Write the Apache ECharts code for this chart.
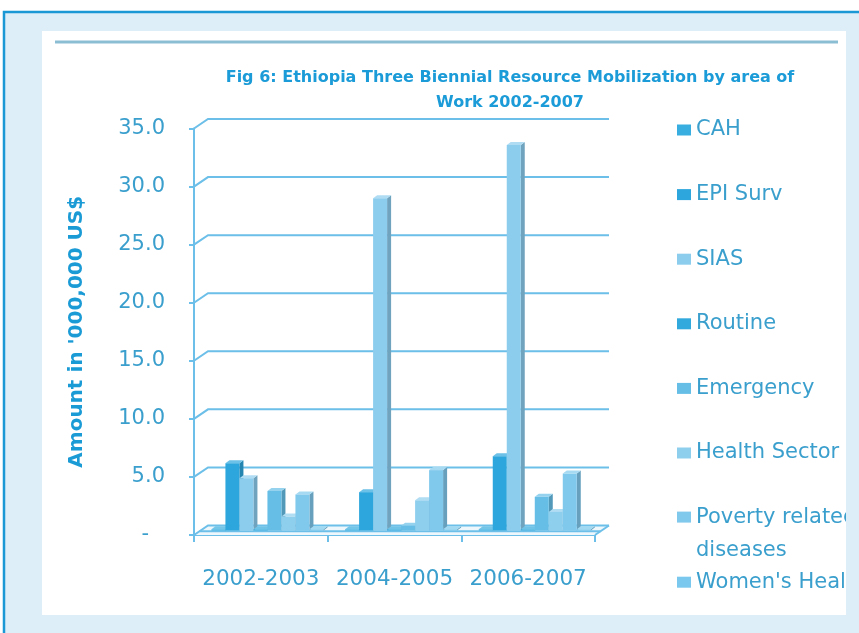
<!DOCTYPE html>
<html>
<head>
<meta charset="utf-8">
<script src="https://cdn.jsdelivr.net/npm/echarts@6/dist/echarts.min.js"></script>
<style>
  html, body { margin: 0; padding: 0; background: #ffffff; }
  #chart { width: 859px; height: 633px; }
</style>
</head>
<body>
<div id="chart"></div>
<script>
// Resource mobilization by area of work, in millions of US$
const categories = ['2002-2003', '2004-2005', '2006-2007'];
const seriesNames = ['CAH', 'EPI Surv', 'SIAS', 'Routine', 'Emergency', 'Health Sector', 'Poverty related diseases', "Women's Health"];

const cah            = [0.1, 0.1, 0.1];
const epiSurv        = [5.8, 3.3, 6.4];
const sias           = [4.5, 28.6, 33.2];
const routine        = [0.1, 0.1, 0.1];
const emergency      = [3.4, 0.4, 2.9];
const healthSector   = [1.2, 2.6, 1.6];
const povertyRelated = [3.1, 5.2, 4.9];
const womensHealth   = [0.1, 0.1, 0.1];

const valueTicks = [0, 5, 10, 15, 20, 25, 30, 35];

const seriesValues = [cah, epiSurv, sias, routine, emergency, healthSector, povertyRelated, womensHealth];

// front-face colour of each column series
const palette = ['#38aee0', '#2ca6dc', '#8ccdee', '#31a9dd', '#66bee7', '#8fcfee', '#80c8ec', '#7ac8ed'];

const FONT = "'DejaVu Sans', sans-serif";
const LINE = '#6cbfe8';
const TEXT = '#3a9fcd';
const DEPTH = [14, -9.5];      // depth of the plot box (walls and floor)
const PLANE = [6.6, -4.5];     // depth at which the columns stand
const BAR_DEPTH = [4, -3];     // thickness of each column
const GROUP_RATIO = 0.838;     // share of a category band used by its columns

function shade(hex, f) {
  const n = parseInt(hex.slice(1), 16);
  let r = (n >> 16) & 255, g = (n >> 8) & 255, b = n & 255;
  const t = f < 0 ? 0 : 255, p = Math.abs(f);
  r = Math.round((t - r) * p + r);
  g = Math.round((t - g) * p + g);
  b = Math.round((t - b) * p + b);
  return 'rgb(' + r + ',' + g + ',' + b + ')';
}

// one 3D column: right side, top, then front face
function columnRenderer(si) {
  return function (params, api) {
    const ci = api.value(0);
    const v = api.value(1);
    const p0 = api.coord([ci, 0]);
    const p1 = api.coord([ci, v]);
    const band = api.size([1, 0])[0];
    const groupW = band * GROUP_RATIO;
    const bw = groupW / seriesNames.length;
    const x = p0[0] - groupW / 2 + si * bw + PLANE[0];
    const yb = p0[1] + PLANE[1];
    const yt = p1[1] + PLANE[1];
    const dx = BAR_DEPTH[0], dy = BAR_DEPTH[1];
    const c = palette[si];
    return {
      type: 'group',
      children: [
        { type: 'polygon', shape: { points: [[x + bw, yt], [x + bw + dx, yt + dy], [x + bw + dx, yb + dy], [x + bw, yb]] },
          style: { fill: shade(c, -0.2) } },
        { type: 'polygon', shape: { points: [[x, yt], [x + dx, yt + dy], [x + bw + dx, yt + dy], [x + bw, yt]] },
          style: { fill: shade(c, 0.3) } },
        { type: 'rect', shape: { x: x, y: yt, width: bw, height: Math.max(yb - yt, 0) },
          style: { fill: c } }
      ]
    };
  };
}

// back wall gridline with its slanted side-wall segment; the zero line also draws the floor
function wallRenderer(params, api) {
  const v = api.value(1);
  const cs = params.coordSys;
  const L = cs.x, R = cs.x + cs.width;
  const y = api.coord([0, v])[1];
  const dx = DEPTH[0], dy = DEPTH[1];
  const stroke = { stroke: LINE, lineWidth: 2, fill: null };
  const kids = [];
  if (v === 0) {
    kids.push({ type: 'polygon', shape: { points: [[L, y], [R, y], [R + dx, y + dy], [L + dx, y + dy]] },
      style: { fill: '#eef7fc' } });
    kids.push({ type: 'line', shape: { x1: L + 5.5, y1: y - 3.7, x2: R + 5.5, y2: y - 3.7 }, style: stroke });
    kids.push({ type: 'polyline', shape: { points: [[R, y], [R + dx, y + dy]] }, style: stroke });
  }
  kids.push({ type: 'polyline', shape: { points: [[L, y], [L + dx, y + dy], [R + dx, y + dy]] }, style: stroke });
  return { type: 'group', children: kids };
}

const series = [{
  type: 'custom',
  name: 'walls',
  silent: true,
  z: 1,
  renderItem: wallRenderer,
  encode: { x: 0, y: 1 },
  data: valueTicks.map(v => [0, v])
}];

seriesNames.forEach((name, si) => {
  series.push({
    type: 'custom',
    name: name,
    z: 2,
    itemStyle: { color: palette[si] },
    renderItem: columnRenderer(si),
    encode: { x: 0, y: 1 },
    data: seriesValues[si].map((v, ci) => [ci, v])
  });
});

// one legend block per series, stacked down the right side
const legendCenters = seriesNames.map((_, i) => 129 + i * 64.6);
const legends = seriesNames.map((name, i) => {
  const twoLine = name === 'Poverty related diseases';
  return {
    data: [name],
    orient: 'vertical',
    left: 672,
    top: twoLine ? legendCenters[i] - 54 : legendCenters[i] - 17,
    icon: 'rect',
    itemWidth: 14,
    itemHeight: 11,
    itemGap: 0,
    selectedMode: false,
    formatter: n => (n === 'Poverty related diseases' ? ' \nPoverty related\ndiseases' : n),
    textStyle: {
      color: TEXT, fontFamily: FONT, fontSize: 21,
      lineHeight: twoLine ? 33 : 26
    }
  };
});

const chart = echarts.init(document.getElementById('chart'), null, { renderer: 'canvas' });
chart.setOption({
  backgroundColor: '#ffffff',
  animation: false,
  graphic: [
    { type: 'rect', z: -2, shape: { x: 4, y: 12, width: 855, height: 621 }, style: { fill: '#ddeef9' } },
    { type: 'polyline', z: -2, shape: { points: [[4, 633], [4, 12], [859, 12]] }, style: { stroke: '#1a98d5', lineWidth: 2.5, fill: null } },
    { type: 'rect', z: -1, shape: { x: 42, y: 31, width: 804, height: 584 }, style: { fill: '#ffffff' } },
    { type: 'line', z: -1, shape: { x1: 55, y1: 42, x2: 838, y2: 42 }, style: { stroke: '#8bbdd3', lineWidth: 3 } },
    { type: 'text', z: 5, x: 510, y: 90.5,
      style: { text: 'Fig 6: Ethiopia Three Biennial Resource Mobilization by area of\nWork 2002-2007',
        align: 'center', verticalAlign: 'middle', lineHeight: 25,
        fontFamily: FONT, fontWeight: 'bold', fontSize: 16, fill: '#1b9bd7' } },
    { type: 'rect', z: 100, shape: { x: 846, y: 31, width: 13, height: 584 }, style: { fill: '#ddeef9' } }
  ],
  legend: legends,
  grid: { left: 194, right: 264, top: 128.5, bottom: 98, containLabel: false },
  xAxis: {
    type: 'category',
    data: categories,
    axisLine: { show: true, lineStyle: { color: LINE, width: 2 } },
    axisTick: { show: true, length: 7, lineStyle: { color: LINE, width: 2 } },
    axisLabel: { color: TEXT, fontFamily: FONT, fontSize: 21.5, margin: 33, interval: 0, hideOverlap: false },
    splitLine: { show: false }
  },
  yAxis: {
    type: 'value',
    min: 0, max: 35, interval: 5,
    name: "Amount in '000,000 US$",
    nameLocation: 'middle',
    nameGap: 107,
    nameRotate: 90,
    nameTextStyle: { color: '#1b9bd6', fontFamily: FONT, fontWeight: 'bold', fontSize: 20 },
    axisLine: { show: true, lineStyle: { color: LINE, width: 2 } },
    axisTick: { show: true, length: 5, lineStyle: { color: LINE, width: 2 } },
    axisLabel: {
      color: TEXT, fontFamily: FONT, fontSize: 21, margin: 29,
      formatter: v => (v === 0 ? '{z|-}' : v.toFixed(1)),
      rich: { z: { padding: [0, 16, 0, 0], fontSize: 21, color: TEXT, fontFamily: FONT } }
    },
    splitLine: { show: false }
  },
  series: series
});
</script>
</body>
</html>
